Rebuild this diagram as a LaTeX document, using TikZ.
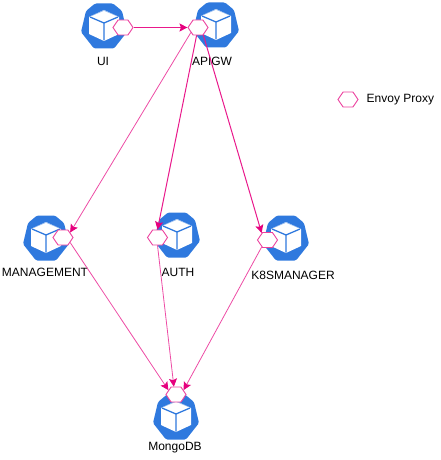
\documentclass[tikz,border=0pt]{standalone}
\usepackage{fontspec}
\setmainfont{Liberation Sans}
\usepackage{xcolor}
\usetikzlibrary{arrows.meta, shapes.symbols}
\definecolor{kubeblue}{HTML}{2F79DE}
\definecolor{proxypink}{HTML}{E6007E}
\tikzset{>={Stealth[length=8pt,width=8pt,inset=1.5pt,color=proxypink]},
	proxy/.style={signal, signal to=east and west, signal pointer angle=112, draw=proxypink!75, fill=white, line width=0.9pt, minimum width=20pt, minimum height=15pt, inner sep=0pt},
	svc/.style={font=\fontsize{12}{14}\selectfont, inner sep=0pt},
	link/.style={->, proxypink!70, line width=0.8pt},
	strong/.style={->, proxypink!90, line width=1pt},
	kubeicon/.pic={
		\fill [kubeblue, rounded corners=1.5pt] (-9,-22.5) -- (9,-22.5) -- (18,-15) -- (23,6) -- (10,22.5) -- (-10,22.5) -- (-23,6) -- (-18,-15) -- cycle;
		\fill [white] (0,-16) -- (15,-9) -- (15,8) -- (0,15) -- (-15,8) -- (-15,-9) -- cycle;
		\draw [kubeblue, line width=1.3pt] (-14,-9) -- (0,-3) -- (14,-9) (0,-3) -- (0,14.5);
		\draw [kubeblue!60, line width=0.4pt] (-13,-10) -- (0,-15.5) -- (13,-10);
	}}

\begin{document}
\begin{tikzpicture}[x=1pt,y=-1pt]
	\useasboundingbox (0,0) rectangle (441,460);
	% services
	\pic at (104,26) {kubeicon};
	\pic at (216,25) {kubeicon};
	\pic at (46,238) {kubeicon};
	\pic at (177,235) {kubeicon};
	\pic at (286,238) {kubeicon};
	\pic at (176,417) {kubeicon};
	% sidecars
	\node [proxy] (uiproxy) at (123,27.5) {};
	\node [proxy] (gwproxy) at (198,27.5) {};
	\node [proxy] (mgmtproxy) at (63,237.5) {};
	\node [proxy] (authproxy) at (157.5,237.5) {};
	\node [proxy] (k8sproxy) at (267.5,240) {};
	\node [proxy] (mongoproxy) at (176,394.5) {};
	% names
	\node [svc] (uilabel) at (103,61) {UI};
	\node [svc] (gwlabel) at (212,61) {APIGW};
	\node [svc] (mgmtlabel) at (45,272) {MANAGEMENT};
	\node [svc] (authlabel) at (178,272) {AUTH};
	\node [svc] (k8slabel) at (293,275) {K8SMANAGER};
	\node [svc] (mongolabel) at (175,448) {MongoDB};
	% calls
	\draw [strong] (uiproxy.east) -- (gwproxy.west);
	\draw [link] (gwproxy.215) -- (mgmtproxy.35);
	\draw [strong] (gwproxy.260) -- (authproxy.north);
	\draw [strong] (gwproxy.305) -- (k8sproxy.130);
	\draw [link] (mgmtproxy.325) -- (mongoproxy.150);
	\draw [link] (authproxy.south) -- (mongoproxy.105);
	\draw [link] (k8sproxy.230) -- (mongoproxy.30);
	% legend
	\node [proxy] (legendproxy) at (348,99.5) {};
	\node [svc, right=0pt] (legendlabel) at (366.5,100) {Envoy Proxy};
\end{tikzpicture}
\end{document}
